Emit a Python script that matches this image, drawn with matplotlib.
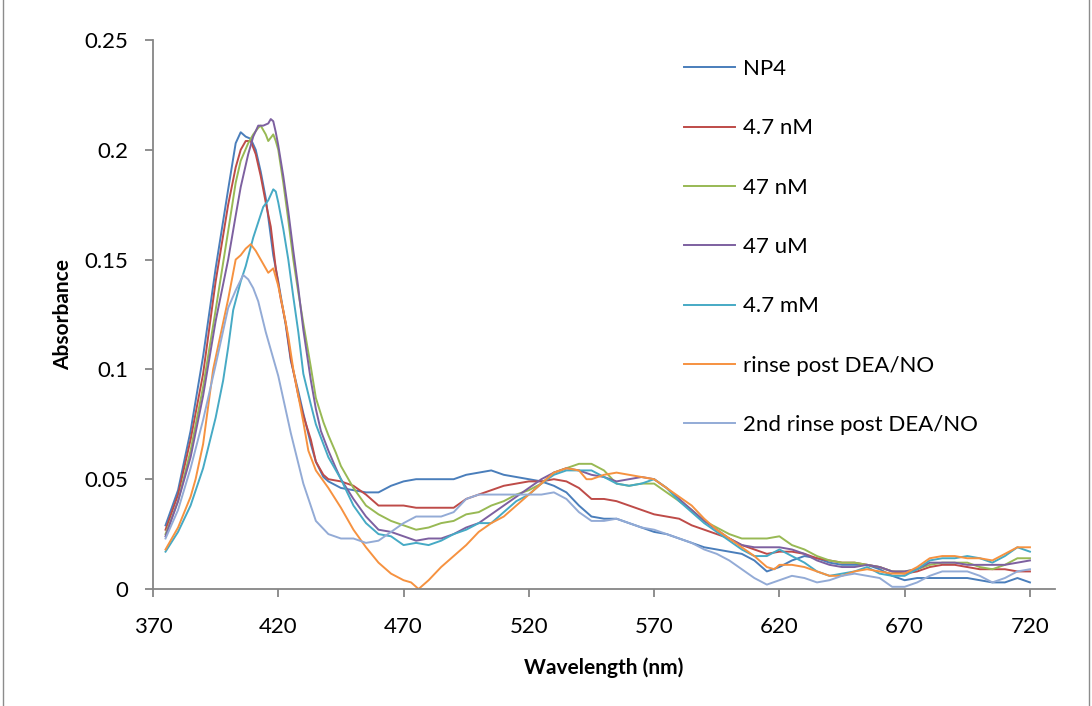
import matplotlib
matplotlib.use("Agg")
import matplotlib.pyplot as plt
from matplotlib.lines import Line2D

plt.rcParams['font.family'] = ['Lato', 'DejaVu Sans']

# ---------------- data ----------------
series_labels = ["NP4", "4.7 nM", "47 nM", "47 uM", "4.7 mM",
                 "rinse post DEA/NO", "2nd rinse post DEA/NO"]
series_colors = ["#4A7EBB", "#BE4B48", "#98B954", "#7D60A0", "#46AAC5",
                 "#F69240", "#93ABD6"]

x_ticks = [370, 420, 470, 520, 570, 620, 670, 720]
y_ticks = [0, 0.05, 0.1, 0.15, 0.2, 0.25]
y_tick_labels = ["0", "0.05", "0.1", "0.15", "0.2", "0.25"]

tail_nm = [445, 450, 455, 460, 465, 470, 475, 480, 485, 490, 495, 500, 505, 510,
           515, 520, 525, 530, 535, 540, 545, 550, 555, 560, 565, 570, 575, 580,
           585, 590, 595, 600, 605, 610, 615, 620, 625, 630, 635, 640, 645, 650,
           655, 660, 665, 670, 675, 680, 685, 690, 695, 700, 705, 710, 715, 720]

np4_nm = [375, 380, 385, 390, 395, 400, 403, 405, 407, 409, 411, 413, 415, 418,
          420, 423, 425, 428, 430, 433, 435, 438, 440] + tail_nm
np4_abs = [0.029, 0.045, 0.072, 0.106, 0.146, 0.182, 0.203, 0.208, 0.206, 0.205,
           0.200, 0.190, 0.178, 0.152, 0.140, 0.120, 0.104, 0.090, 0.080, 0.066,
           0.058, 0.051, 0.049,
           0.046, 0.045, 0.044, 0.044, 0.047, 0.049, 0.050, 0.050, 0.050, 0.050,
           0.052, 0.053, 0.054, 0.052, 0.051, 0.050, 0.049, 0.047, 0.044, 0.038,
           0.033, 0.032, 0.032, 0.030, 0.028, 0.026, 0.025, 0.023, 0.021, 0.019,
           0.018, 0.017, 0.016, 0.013, 0.008, 0.010, 0.013, 0.015, 0.014, 0.012,
           0.011, 0.011, 0.011, 0.009, 0.006, 0.004, 0.005, 0.005, 0.005, 0.005,
           0.005, 0.004, 0.003, 0.003, 0.005, 0.003]

nm4_7_nm = [375, 380, 385, 390, 395, 400, 403, 405, 407, 409, 411, 413, 415,
            417, 419, 421, 423, 425, 428, 430, 433, 435, 438, 440] + tail_nm
nm4_7_abs = [0.027, 0.043, 0.068, 0.098, 0.140, 0.175, 0.192, 0.200, 0.204, 0.204,
             0.198, 0.188, 0.176, 0.165, 0.146, 0.132, 0.121, 0.105, 0.088, 0.079,
             0.068, 0.058, 0.052, 0.050,
             0.049, 0.047, 0.043, 0.038, 0.038, 0.038, 0.037, 0.037, 0.037, 0.037,
             0.041, 0.043, 0.045, 0.047, 0.048, 0.049, 0.049, 0.050, 0.049, 0.046,
             0.041, 0.041, 0.040, 0.038, 0.036, 0.034, 0.033, 0.032, 0.029, 0.027,
             0.025, 0.023, 0.020, 0.018, 0.016, 0.017, 0.017, 0.016, 0.014, 0.013,
             0.012, 0.012, 0.011, 0.010, 0.008, 0.007, 0.008, 0.010, 0.011, 0.011,
             0.010, 0.009, 0.009, 0.009, 0.008, 0.008]

nm47_nm = [375, 380, 385, 390, 395, 400, 403, 405, 408, 410, 412, 413, 415,
           416, 418, 419, 420, 422, 424, 426, 428, 430, 433, 435, 438, 440,
           443] + tail_nm
nm47_abs = [0.025, 0.040, 0.063, 0.092, 0.127, 0.163, 0.185, 0.195, 0.203, 0.207,
            0.210, 0.211, 0.207, 0.204, 0.207, 0.204, 0.200, 0.185, 0.168, 0.150,
            0.135, 0.121, 0.101, 0.087, 0.076, 0.070, 0.062,
            0.056, 0.046, 0.038, 0.034, 0.031, 0.029, 0.027, 0.028, 0.030, 0.031,
            0.034, 0.035, 0.038, 0.040, 0.043, 0.045, 0.048, 0.053, 0.055, 0.057,
            0.057, 0.054, 0.048, 0.047, 0.048, 0.048, 0.044, 0.040, 0.036, 0.031,
            0.028, 0.025, 0.023, 0.023, 0.023, 0.024, 0.020, 0.018, 0.015, 0.013,
            0.012, 0.012, 0.011, 0.010, 0.008, 0.008, 0.009, 0.011, 0.012, 0.012,
            0.012, 0.010, 0.009, 0.011, 0.014, 0.014]

um47_nm = [375, 380, 385, 390, 395, 400, 403, 405, 408, 410, 412, 414, 416, 417,
           418, 419, 420, 422, 424, 426, 428, 430, 433, 435, 437, 440,
           443] + tail_nm
um47_abs = [0.024, 0.040, 0.060, 0.088, 0.122, 0.150, 0.170, 0.183, 0.198, 0.206,
            0.211, 0.211, 0.212, 0.214, 0.213, 0.208, 0.202, 0.188, 0.172, 0.154,
            0.137, 0.118, 0.095, 0.082, 0.072, 0.063, 0.055,
            0.050, 0.041, 0.033, 0.027, 0.026, 0.024, 0.022, 0.023, 0.023, 0.025,
            0.028, 0.030, 0.034, 0.038, 0.042, 0.046, 0.050, 0.053, 0.055, 0.054,
            0.052, 0.051, 0.049, 0.050, 0.051, 0.050, 0.046, 0.041, 0.036, 0.031,
            0.027, 0.023, 0.020, 0.019, 0.019, 0.019, 0.018, 0.016, 0.013, 0.011,
            0.010, 0.010, 0.011, 0.010, 0.008, 0.008, 0.009, 0.012, 0.012, 0.012,
            0.011, 0.011, 0.011, 0.011, 0.012, 0.013]

mm4_7_nm = [375, 380, 385, 390, 395, 398, 400, 402, 405, 407, 410, 412, 414, 416,
            418, 419, 420, 422, 424, 426, 428, 430, 433, 435, 437, 440] + tail_nm
mm4_7_abs = [0.017, 0.026, 0.038, 0.055, 0.078, 0.095, 0.110, 0.127, 0.140, 0.147,
             0.160, 0.167, 0.174, 0.177, 0.182, 0.181, 0.176, 0.164, 0.150, 0.133,
             0.117, 0.098, 0.084, 0.075, 0.069, 0.060,
             0.050, 0.038, 0.030, 0.025, 0.024, 0.020, 0.021, 0.020, 0.022, 0.025,
             0.027, 0.030, 0.030, 0.035, 0.040, 0.043, 0.048, 0.052, 0.054, 0.054,
             0.054, 0.051, 0.048, 0.047, 0.048, 0.050, 0.046, 0.040, 0.035, 0.030,
             0.026, 0.022, 0.018, 0.015, 0.015, 0.018, 0.015, 0.012, 0.008, 0.006,
             0.007, 0.008, 0.010, 0.007, 0.006, 0.006, 0.009, 0.013, 0.014, 0.014,
             0.015, 0.014, 0.012, 0.015, 0.019, 0.017]

rinse_nm = [375, 380, 385, 387, 390, 394, 397, 400, 403, 405, 407, 409, 411, 413,
            415, 416, 418, 420, 422, 424, 426, 428, 430, 432, 435, 440, 445, 450,
            455, 460, 465, 470, 473, 476, 480, 485, 490, 495, 500, 505, 510, 515,
            520, 525, 530, 535, 540, 543, 545, 550, 555, 560, 565, 570, 575, 580,
            585, 590, 595, 600, 605, 610, 615, 618, 620, 625, 630, 635, 640, 645,
            650, 655, 660, 665, 670, 675, 680, 685, 690, 695, 700, 705, 710, 715, 720]
rinse_abs = [0.018, 0.028, 0.042, 0.050, 0.066, 0.100, 0.116, 0.132, 0.150, 0.152,
             0.155, 0.157, 0.154, 0.150, 0.146, 0.144, 0.146, 0.138, 0.127, 0.115,
             0.100, 0.088, 0.076, 0.063, 0.054, 0.046, 0.037, 0.027, 0.019, 0.012,
             0.007, 0.004, 0.003, 0.000, 0.004, 0.010, 0.015, 0.020, 0.026, 0.030,
             0.033, 0.038, 0.043, 0.048, 0.053, 0.055, 0.054, 0.050, 0.050, 0.052,
             0.053, 0.052, 0.051, 0.050, 0.046, 0.042, 0.038, 0.032, 0.027, 0.023,
             0.019, 0.015, 0.010, 0.009, 0.011, 0.011, 0.010, 0.008, 0.006, 0.006,
             0.008, 0.009, 0.008, 0.007, 0.007, 0.010, 0.014, 0.015, 0.015, 0.014,
             0.014, 0.013, 0.016, 0.019, 0.019]

rinse2_nm = [375, 380, 385, 390, 395, 400, 403, 406, 408, 410, 412, 415, 420, 425,
             430, 435, 440] + tail_nm
rinse2_abs = [0.023, 0.036, 0.055, 0.077, 0.102, 0.128, 0.136, 0.143, 0.141, 0.137,
              0.131, 0.117, 0.097, 0.071, 0.048, 0.031, 0.025,
              0.023, 0.023, 0.021, 0.022, 0.026, 0.030, 0.033, 0.033, 0.033, 0.035,
              0.041, 0.043, 0.043, 0.043, 0.043, 0.043, 0.043, 0.044, 0.041, 0.035,
              0.031, 0.031, 0.032, 0.030, 0.028, 0.027, 0.025, 0.023, 0.021, 0.018,
              0.016, 0.013, 0.009, 0.005, 0.002, 0.004, 0.006, 0.005, 0.003, 0.004,
              0.006, 0.007, 0.006, 0.005, 0.001, 0.001, 0.003, 0.006, 0.008, 0.008,
              0.008, 0.006, 0.003, 0.005, 0.008, 0.009]

all_nm = [np4_nm, nm4_7_nm, nm47_nm, um47_nm, mm4_7_nm, rinse_nm, rinse2_nm]
all_abs = [np4_abs, nm4_7_abs, nm47_abs, um47_abs, mm4_7_abs, rinse_abs, rinse2_abs]

# ---------------- figure ----------------
W, H = 1092, 706
fig = plt.figure(figsize=(W / 100, H / 100), dpi=100)
ax = fig.add_axes([153 / W, 1 - 589 / H, (1055 - 153) / W, (589 - 40) / H])

for xs, ys, lab, col in zip(all_nm, all_abs, series_labels, series_colors):
    ax.plot(xs, ys, color=col, lw=1.4, label=lab)

ax.set_xlim(370, 730)
ax.set_ylim(0, 0.25)
ax.set_xticks(x_ticks)
ax.set_xticklabels([str(v) for v in x_ticks])
ax.set_yticks(y_ticks)
ax.set_yticklabels(y_tick_labels)

axis_gray = "#868686"
for s in ["top", "right"]:
    ax.spines[s].set_visible(False)
for s in ["left", "bottom"]:
    ax.spines[s].set_color(axis_gray)
    ax.spines[s].set_linewidth(1.3)
ax.tick_params(axis="both", direction="out", length=6, width=1.3,
               color=axis_gray, labelsize=16, labelcolor="black")
ax.tick_params(axis="y", pad=12)
ax.tick_params(axis="x", pad=14)

ax.set_xlabel("Wavelength (nm)", fontsize=15, fontweight="bold", labelpad=15)
ax.set_ylabel("Absorbance", fontsize=15, fontweight="bold", labelpad=8)

leg = ax.legend(loc="upper left", bbox_to_anchor=(684 / W, 1 - 59 / H),
                bbox_transform=fig.transFigure, frameon=False,
                fontsize=16, handlelength=2.3, handletextpad=0.35,
                labelspacing=1.77, borderpad=0, borderaxespad=0)

# outer chart border (left and right edges visible in the reference)
fig.add_artist(Line2D([3 / W, 3 / W], [0, 1], transform=fig.transFigure,
                      color="#8c8c8c", lw=1))
fig.add_artist(Line2D([1089 / W, 1089 / W], [0, 1], transform=fig.transFigure,
                      color="#8c8c8c", lw=1))

fig.savefig("out.png", dpi=100)
